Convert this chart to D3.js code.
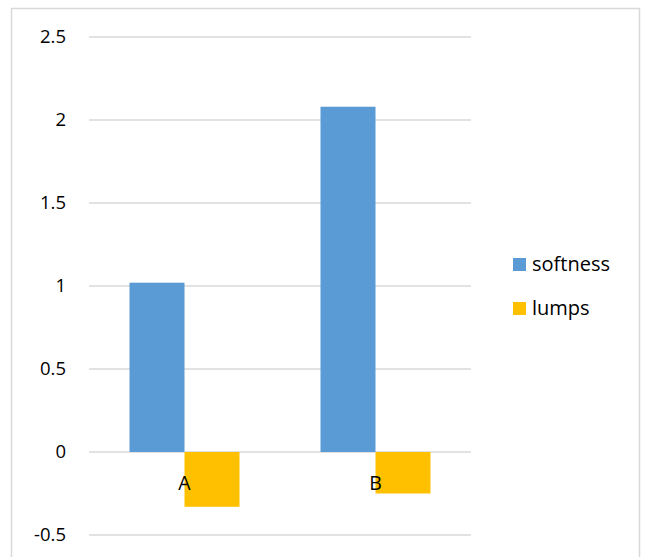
<!DOCTYPE html>
<html>
<head>
<meta charset="utf-8">
<script src="https://cdn.jsdelivr.net/npm/d3@7"></script>
<style>
  body { margin: 0; background: #fff; }
  svg text { font-family: "Open Sans", Lato, sans-serif; fill: #000; }
</style>
</head>
<body>
<svg id="chart" width="646" height="557"></svg>
<script>
/* data */
const categories = ["A", "B"]
const seriesNames = ["softness", "lumps"]
const softness = [1.02, 2.08]
const lumps = [-0.33, -0.25]
const yTicks = [-0.5, 0, 0.5, 1, 1.5, 2, 2.5]
const colors = ["#5b9bd5", "#ffc000"]

const svg = d3.select("#chart")

// outer chart border (bottom edge runs off the picture)
svg.append("rect")
    .attr("x", 11.5).attr("y", 8.5)
    .attr("width", 628).attr("height", 560)
    .attr("fill", "none")
    .attr("stroke", "#d9d9d9")
    .attr("stroke-width", 1.5)

const left = 89, right = 471

const y = d3.scaleLinear().domain([-0.5, 2.5]).range([535, 37])

const x = d3.scaleBand()
    .domain(categories)
    .range([left, right])
    .paddingInner(81 / 191)
    .paddingOuter(81 / 191 / 2)

const xs = d3.scaleBand()
    .domain(seriesNames)
    .range([0, x.bandwidth()])

// gridlines
svg.append("g")
    .selectAll("line")
    .data(yTicks)
    .enter()
    .append("line")
    .attr("x1", left).attr("x2", right)
    .attr("y1", d => y(d)).attr("y2", d => y(d))
    .attr("stroke", "#d9d9d9")
    .attr("stroke-width", 1.5)

// y tick labels
svg.append("g")
    .selectAll("text")
    .data(yTicks)
    .enter()
    .append("text")
    .attr("x", 66)
    .attr("y", d => y(d))
    .attr("dy", "0.35em")
    .attr("text-anchor", "end")
    .style("font-size", "18.5px")
    .text(d => d)

// bars
const rows = categories.map((c, i) => ({ cat: c, vals: [softness[i], lumps[i]] }))

const group = svg.append("g")
    .selectAll("g")
    .data(rows)
    .enter()
    .append("g")
    .attr("transform", d => "translate(" + x(d.cat) + ",0)")

group.selectAll("rect")
    .data(d => d.vals.map((v, j) => ({ name: seriesNames[j], v: v, j: j })))
    .enter()
    .append("rect")
    .attr("x", d => xs(d.name))
    .attr("width", xs.bandwidth())
    .attr("y", d => y(Math.max(0, d.v)))
    .attr("height", d => Math.abs(y(d.v) - y(0)))
    .attr("fill", d => colors[d.j])

// category labels, drawn next to the zero axis
svg.append("g")
    .selectAll("text")
    .data(categories)
    .enter()
    .append("text")
    .attr("x", d => x(d) + x.bandwidth() / 2)
    .attr("y", y(0) + 38)
    .attr("text-anchor", "middle")
    .style("font-size", "19.5px")
    .text(d => d)

// legend
const legend = svg.append("g")
    .selectAll("g")
    .data(seriesNames)
    .enter()
    .append("g")
    .attr("transform", (d, i) => "translate(513," + (258 + i * 44) + ")")

legend.append("rect")
    .attr("width", 13).attr("height", 13)
    .attr("fill", (d, i) => colors[i])

legend.append("text")
    .attr("x", 19)
    .attr("y", 6)
    .attr("dy", "0.35em")
    .style("font-size", "20px")
    .text(d => d)
</script>
</body>
</html>
